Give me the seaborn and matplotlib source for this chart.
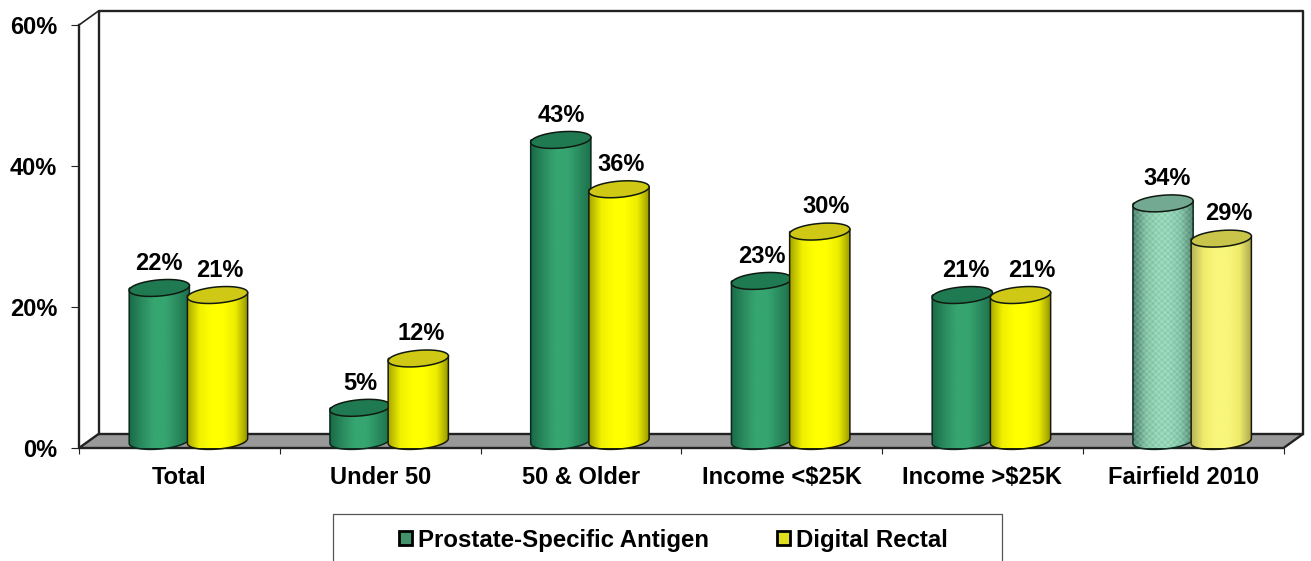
import numpy as np
import pandas as pd
import matplotlib
matplotlib.use("Agg")
import matplotlib.pyplot as plt
from matplotlib.colors import LinearSegmentedColormap
from matplotlib.patches import Polygon, PathPatch, Rectangle
from matplotlib.path import Path
import seaborn as sns

categories = ["Total", "Under 50", "50 & Older", "Income <$25K", "Income >$25K", "Fairfield 2010"]
psa_values = [22, 5, 43, 23, 21, 34]
dre_values = [21, 12, 36, 30, 21, 29]
series_names = ["Prostate-Specific Antigen", "Digital Rectal"]
y_ticks = [0, 20, 40, 60]

sns.set_theme(style="white")
plt.rcParams["font.family"] = ["Liberation Sans", "DejaVu Sans"]
plt.rcParams["font.weight"] = "bold"

W, H = 1311, 561
FS = 17
fig = plt.figure(figsize=(W / 100, H / 100), dpi=100, facecolor="white")
ax = fig.add_axes([79 / W, (H - 448) / H, 1204.5 / W, 423 / H])
ax.patch.set_visible(False)

df = pd.DataFrame({
    "category": categories * 2,
    "value": psa_values + dre_values,
    "series": [series_names[0]] * 6 + [series_names[1]] * 6,
})
GREEN, YELLOW = "#34a06c", "#ffff00"
sns.barplot(data=df, x="category", y="value", hue="series", order=categories,
            hue_order=series_names, palette=[GREEN, YELLOW], width=0.6, gap=0,
            edgecolor="black", linewidth=2, errorbar=None, ax=ax, zorder=3)

ax.set_xlim(-0.5, 5.5)
ax.set_ylim(0, 60)
DX, DY = 19.5 / 200.75, 14 / 7.05          # 3-D depth of the box
SHIFT = 0.05                               # cylinders stand mid-depth
OVERLAP = 0.01                             # yellow cylinder laps over the green one
BASE, TOPEXTRA, B, TILT = 1.0, 0.7, 1.15, 0.35

green_cm = LinearSegmentedColormap.from_list("g", ["#1a6b48", "#2a8a5e", "#36a570", "#36a570", "#2a8a5e", "#1b6e4a"])
yellow_cm = LinearSegmentedColormap.from_list("y", ["#a8a800", "#f0f000", "#ffff00", "#ffff00", "#ecec00", "#969600"])
pale_g_cm = LinearSegmentedColormap.from_list("pg", ["#5a8e7a", "#86c4a8", "#96d4b8", "#96d4b8", "#86c4a8", "#5a8e7a"])
pale_y_cm = LinearSegmentedColormap.from_list("py", ["#b4b458", "#eeea6a", "#faf67c", "#faf67c", "#eeea6a", "#aca850"])

# ---- box: back wall, left wall, floor
x0, x1 = -0.5, 5.5
box_kw = dict(color="#222222", lw=1.7, clip_on=False, zorder=1, solid_capstyle="projecting")
ax.add_patch(Polygon([(x0, 0), (x0 + DX, DY), (x1 + DX, DY), (x1, 0)], closed=True,
                     facecolor="#999999", edgecolor="#222222", lw=1.7, clip_on=False, zorder=1))
ax.plot([x0 + DX, x0 + DX, x1 + DX, x1 + DX], [DY, 60 + DY, 60 + DY, DY], **box_kw)
ax.plot([x0, x0 + DX], [60, 60 + DY], color="#222222", lw=1.2, clip_on=False, zorder=1)

# ---- cylinders built on the seaborn bars
t_low = np.linspace(np.pi, 2 * np.pi, 40)
t_all = np.linspace(0, 2 * np.pi, 80)
bars = [p for p in ax.patches if isinstance(p, Rectangle) and p.get_height() > 0]
n = len(categories)
label_nudge_px = [-3, 0, -2, 1, -2, 0, -2, 4, 1, 9, 2, 5]
label_order = [0, 6, 1, 7, 2, 8, 3, 9, 4, 10, 5, 11]
for i, bar in enumerate(bars):
    is_yellow = i >= n
    col = i % n
    val = bar.get_height()
    x = bar.get_x() + SHIFT - (OVERLAP if is_yellow else 0)
    w = bar.get_width()
    a = w / 2
    cx = x + a
    top = val + TOPEXTRA
    bar.set_x(x)
    bar.set_y(BASE)
    bar.set_height(top - BASE)
    bar.set_linewidth(0)
    z = 4 + (2 if is_yellow else 0)
    bar.set_zorder(z)
    faded = col == n - 1
    cm = {(False, False): green_cm, (True, False): yellow_cm,
          (False, True): pale_g_cm, (True, True): pale_y_cm}[(is_yellow, faded)]
    bar.set_facecolor(cm(0.5))

    xs = np.concatenate([[cx - a], cx + a * np.cos(t_low), [cx + a]])
    ys = np.concatenate([[top], BASE + B * np.sin(t_low) + TILT * np.cos(t_low), [top + TILT]])
    xs_body = np.concatenate([xs, [cx - a]])
    ys_body = np.concatenate([ys, [top]])
    body = PathPatch(Path(np.column_stack([xs_body, ys_body])), facecolor="none",
                     edgecolor="#1a1a00" if is_yellow else "#0a2a1c", lw=1.1,
                     clip_on=False, zorder=z + 0.4, transform=ax.transData)
    ax.add_patch(body)
    grad = np.linspace(0, 1, 120)[None, :]
    rgba = cm(grad)
    if faded and not is_yellow:
        rows, cols = int((top + 2) * 7.05 / 3), 20
        rgba = cm(np.linspace(0, 1, cols)[None, :].repeat(rows, axis=0))
        check = (np.indices((rows, cols)).sum(axis=0) % 2)[..., None]
        rgba[..., :3] = np.clip(rgba[..., :3] + (check - 0.5) * 0.16, 0, 1)
    im = ax.imshow(rgba, extent=[cx - a, cx + a, BASE - B - 0.5, top + 0.5], aspect="auto",
                   origin="lower", zorder=z + 0.2, interpolation="bilinear", clip_on=True)
    im.set_clip_path(PathPatch(Path(np.column_stack([xs_body, ys_body])), transform=ax.transData))
    # top ellipse
    face = {(False, False): "#1f7a52", (True, False): "#cfc814",
            (False, True): "#73a892", (True, True): "#c9c44a"}[(is_yellow, faded)]
    ax.add_patch(Polygon(np.column_stack([cx + a * np.cos(t_all),
                                          top + B * np.sin(t_all) + TILT * np.cos(t_all)]),
                         closed=True, facecolor=face, edgecolor="#101a10", lw=1.1,
                         clip_on=False, zorder=z + 0.6))
    nudge = label_nudge_px[label_order.index(i)]
    ax.annotate(f"{val:.0f}%", (cx, val + 4.2), xytext=(nudge * 0.72 + 1.5, 0), textcoords="offset points",
                ha="center", va="center", fontsize=FS, fontweight="bold", color="black",
                zorder=9, annotation_clip=False)

ax.set_xlim(-0.5, 5.5)
ax.set_ylim(0, 60)

# ---- axes
sns.despine(ax=ax, top=True, right=True)
for s in ("left", "bottom"):
    ax.spines[s].set_color("#222222")
ax.spines["left"].set_linewidth(1.7)
ax.spines["bottom"].set_linewidth(1.2)
ax.set_xlabel("")
ax.set_ylabel("")
ax.set_yticks(y_ticks)
ax.set_yticklabels([f"{v}%" for v in y_ticks], fontsize=FS, fontweight="bold", color="black")
ax.tick_params(axis="y", left=True, length=5.8, width=0.8, color="#222222", pad=10)
ax.set_xticks(range(n))
ax.set_xticklabels(categories, fontsize=FS, fontweight="bold", color="black")
ax.tick_params(axis="x", which="major", bottom=False, length=0, pad=13.2)
ax.set_xticks(np.arange(-0.5, 5.6, 1), minor=True)
ax.tick_params(axis="x", which="minor", bottom=True, length=4, width=0.8, color="#222222")

# ---- legend
sns.move_legend(ax, "center left", bbox_to_anchor=(399 / W, (H - 540) / H), bbox_transform=fig.transFigure,
                ncol=2, title=None, frameon=False, borderpad=0, borderaxespad=0,
                handlelength=0.55, handleheight=0.55, handletextpad=0.25, columnspacing=2.8,
                labelcolor="black",
                prop={"family": "Liberation Sans", "weight": "bold", "size": 17.3})
fig.add_artist(Rectangle((333 / W, -0.02), 669 / W, (H - 514) / H + 0.02, transform=fig.transFigure,
                         facecolor="none", edgecolor="#555555", lw=0.9, zorder=0))

fig.savefig("out.png", dpi=100, facecolor="white")
